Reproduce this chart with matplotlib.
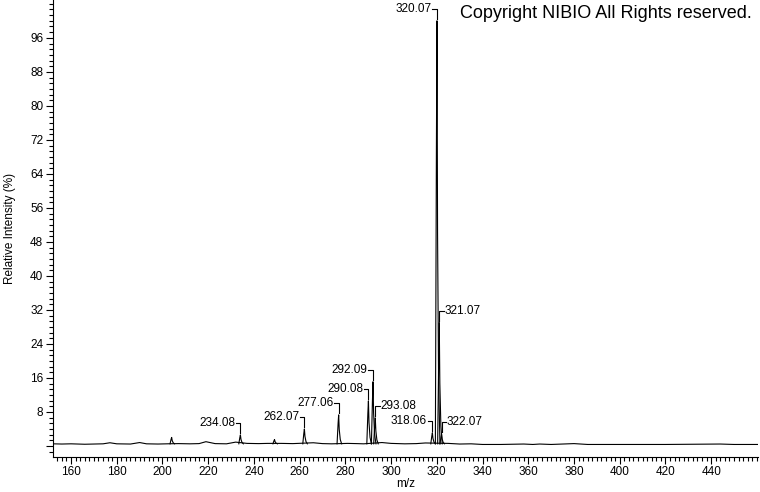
import matplotlib
matplotlib.use("Agg")
import matplotlib.pyplot as plt
import matplotlib.ticker as mticker
import numpy as np

# baseline of the spectrum (m/z, relative intensity %)
BASE_MZ = [152, 156, 160, 166, 170, 174, 177, 180, 186, 190, 193, 198, 202,
           207, 212, 216, 219, 223, 228, 232, 237, 242, 246, 252, 257, 266,
           270, 274, 281, 285, 288, 296, 300, 306, 311, 315, 325, 330, 335,
           340, 348, 358, 362, 365, 370, 380, 386, 400, 420, 444, 450, 461]
BASE_INT = [0.5, 0.45, 0.5, 0.4, 0.45, 0.5, 0.75, 0.5, 0.45, 0.8, 0.5, 0.45,
            0.5, 0.55, 0.5, 0.55, 1.0, 0.55, 0.5, 0.9, 0.6, 0.55, 0.6, 0.6,
            0.55, 0.75, 0.55, 0.5, 0.6, 0.55, 0.5, 0.8, 0.6, 0.5, 0.55, 0.7,
            0.6, 0.45, 0.5, 0.35, 0.35, 0.45, 0.35, 0.45, 0.35, 0.55, 0.35,
            0.35, 0.35, 0.45, 0.35, 0.35]

# peaks
PEAK_MZ = [204.0, 234.08, 249.0, 262.07, 277.06, 290.08, 292.09, 293.08,
           318.06, 320.07, 321.07, 322.07]
PEAK_INT = [2.0, 2.6, 1.5, 4.0, 7.3, 10.6, 15.1, 6.6, 3.1, 100.0, 29.0, 2.8]

# labelled peaks
LABEL_MZ = [234.08, 262.07, 277.06, 290.08, 292.09, 293.08, 318.06, 320.07,
            321.07, 322.07]
LABEL_SIDE = ["l", "l", "l", "l", "l", "r", "l", "l", "r", "r"]
LABEL_Y = [5.4, 6.8, 10.1, 13.4, 17.9, 9.4, 5.9, 102.8, 31.8, 5.6]

Y_TICKS = [0, 8, 16, 24, 32, 40, 48, 56, 64, 72, 80, 88, 96]
X_TICKS = [160, 180, 200, 220, 240, 260, 280, 300, 320, 340, 360, 380, 400,
           420, 440]

# peak profile shape (style)
DX = np.array([-0.7, -0.25, 0.0, 0.25, 0.7, 1.3])
FRAC = np.array([0.0, 0.7, 1.0, 0.5, 0.15, 0.0])
FOOT = 0.5

plt.rcParams.update({
    "font.family": ["Liberation Sans", "DejaVu Sans"],
    "font.size": 8.5,
})

fig = plt.figure(figsize=(7.6, 4.92), dpi=100)
ax = fig.add_axes([53 / 760, 1 - 457 / 492, 705 / 760, 457 / 492])

ax.plot(BASE_MZ, BASE_INT, color="black", lw=0.8)
for mz, h in zip(PEAK_MZ, PEAK_INT):
    ax.plot(mz + DX, FOOT + FRAC * (h - FOOT), color="black", lw=0.8)

peak_h = dict(zip(PEAK_MZ, PEAK_INT))
for mz, side, ly in zip(LABEL_MZ, LABEL_SIDE, LABEL_Y):
    s = -1 if side == "l" else 1
    top = peak_h[mz] + 0.5
    ax.plot([mz + s * 2.0, mz, mz], [ly, ly, top], color="black", lw=0.8)
    ax.text(mz + s * 2.3, ly, f"{mz:.2f}", ha="right" if s < 0 else "left",
            va="center", fontsize=8.5)

ax.set_xlim(152.1, 460.5)
ax.set_ylim(-2.6, 104.9)

ax.xaxis.set_major_locator(mticker.FixedLocator(X_TICKS))
ax.xaxis.set_minor_locator(mticker.MultipleLocator(2))
ax.yaxis.set_major_locator(mticker.FixedLocator(Y_TICKS))
ax.yaxis.set_minor_locator(mticker.MultipleLocator(8 / 6))
ax.yaxis.set_major_formatter(mticker.FuncFormatter(
    lambda v, p: "" if abs(v) < 1e-6 else f"{v:.0f}"))

ax.tick_params(which="major", length=5, width=0.8, labelsize=8.5)
ax.tick_params(axis="x", which="major", pad=1.5)
ax.tick_params(axis="y", which="major", pad=2)
ax.tick_params(which="minor", length=3, width=0.8)

for sp in ["top", "right"]:
    ax.spines[sp].set_visible(False)
for sp in ["left", "bottom"]:
    ax.spines[sp].set_linewidth(0.8)

ax.set_xlabel("m/z", fontsize=8.5, labelpad=0)
ax.set_ylabel("Relative Intensity (%)", fontsize=8.5)
ax.yaxis.set_label_coords(-37 / 705, 0.5)

fig.text(752 / 760, 1 - 14 / 492, "Copyright NIBIO All Rights reserved.",
         ha="right", va="center", fontsize=13)

fig.savefig("out.png", dpi=100)
